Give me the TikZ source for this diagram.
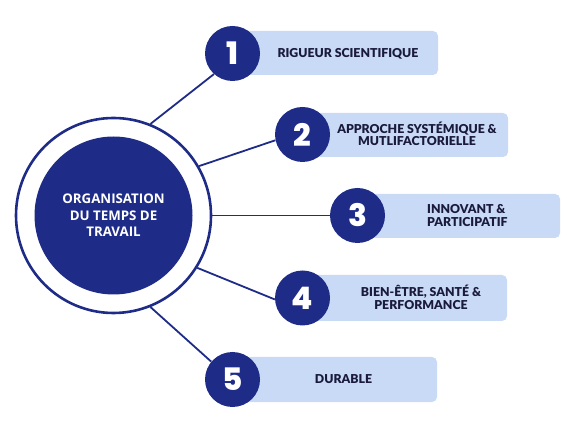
\documentclass[tikz,border=0pt]{standalone}
\usepackage{fontspec}
\setmainfont{Lato}[BoldFont={Lato Black}]
\newfontfamily\numfont{Poppins}[BoldFont={Poppins ExtraBold}]
\newfontfamily\centerfont{Open Sans}
\definecolor{navy}{RGB}{30,44,136}
\definecolor{boxblue}{RGB}{200,218,246}
\definecolor{boxtext}{RGB}{26,26,60}
\begin{document}
\begin{tikzpicture}[x=1pt,y=1pt,
  ringstyle/.style={circle,draw=navy,line width=2.6pt,minimum size=195pt,inner sep=0pt},
  corestyle/.style={circle,fill=navy,minimum size=158pt,inner sep=0pt,text=white,align=center,font=\centerfont\bfseries\fontsize{13.3}{16.5}\selectfont},
  numstyle/.style={circle,fill=navy,minimum size=55pt,inner sep=0pt,text=white,font=\numfont\bfseries\fontsize{31}{32}\selectfont},
  boxstyle/.style={fill=boxblue,rounded corners=5pt},
  labstyle/.style={text=boxtext,font=\bfseries\fontsize{12.3}{12.5}\selectfont,inner sep=0pt},
  linkstyle/.style={draw=navy,line width=1.8pt}]
\useasboundingbox (0,0) rectangle (577,433);
% boxes
\path[boxstyle] (232,358) rectangle (438,402);
\path[boxstyle] (302,276) rectangle (508,320);
\path[boxstyle] (357,195) rectangle (560,239);
\path[boxstyle] (302,112) rectangle (507,158);
\path[boxstyle] (232,31) rectangle (437,76);
% centre
\node[ringstyle] (ring) at (113.5,217.5) {};
\node[corestyle] (core) at (113.5,217.5) {ORGANISATION\\DU TEMPS DE\\TRAVAIL};
% number circles
\node[numstyle] (n1) at (232.5,379.5) {1};
\node[numstyle] (n2) at (302.5,298.5) {2};
\node[numstyle] (n3) at (357.5,217.5) {3};
\node[numstyle] (n4) at (302.5,135) {4};
\node[numstyle] (n5) at (232.5,53.5) {5};
% links
\draw[linkstyle] (ring.68) -- (n1.228);
\draw[linkstyle] (ring.30) -- (n2.192);
\draw[linkstyle] (ring.0) -- (n3.180);
\draw[linkstyle] (ring.-32) -- (n4.183);
\draw[linkstyle] (ring.-68) -- (n5.140);
% labels
\node[labstyle] (l1) at (348,379.5) {RIGUEUR SCIENTIFIQUE};
\node[labstyle,align=center] (l2) at (417,299) {APPROCHE SYSTÉMIQUE \&\\MUTLIFACTORIELLE};
\node[labstyle,align=left,anchor=west] (l3) at (427,217.5) {INNOVANT \&\\PARTICIPATIF};
\node[labstyle,align=center] (l4) at (421,135.5) {BIEN-ÊTRE, SANTÉ \&\\PERFORMANCE};
\node[labstyle] (l5) at (343.5,54) {DURABLE};
\end{tikzpicture}
\end{document}
